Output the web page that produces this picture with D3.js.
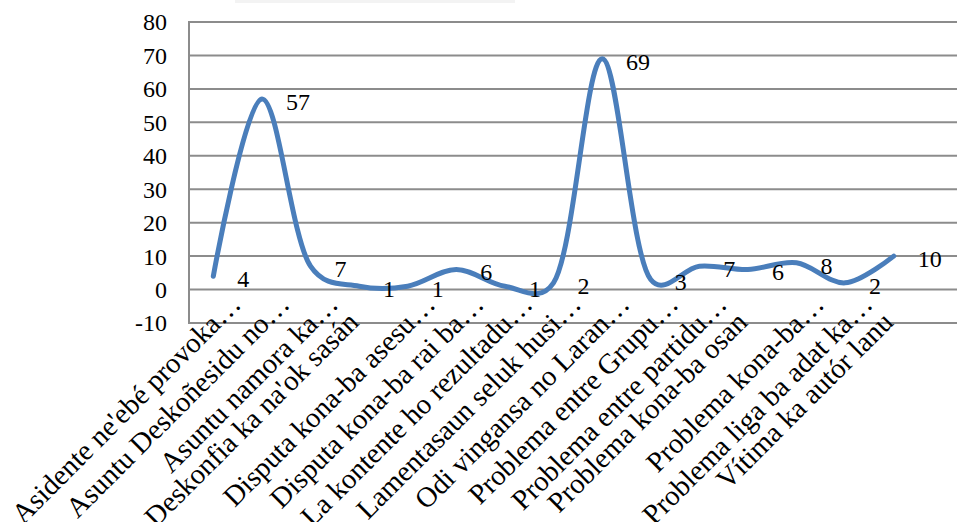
<!DOCTYPE html>
<html><head><meta charset="utf-8">
<script src="https://cdn.jsdelivr.net/npm/d3@7"></script>
<style>html,body{margin:0;padding:0;background:#fff;}svg{display:block;}</style>
</head><body>
<svg id="chart" width="957" height="522"></svg>
<script>
const categories = [
  "Asidente ne'ebé provoka…",
  "Asuntu Deskoñesidu no…",
  "Asuntu namora ka…",
  "Deskonfia ka na'ok sasán",
  "Disputa kona-ba asesu…",
  "Disputa kona-ba rai ba…",
  "La kontente ho rezultadu…",
  "Lamentasaun seluk husi…",
  "Odi vingansa no Laran…",
  "Problema entre Grupu…",
  "Problema entre partidu…",
  "Problema kona-ba osan",
  "Problema kona-ba…",
  "Problema liga ba adat ka…",
  "Vítima ka autór lanu"
];
const values = [4, 57, 7, 1, 1, 6, 1, 2, 69, 3, 7, 6, 8, 2, 10];
const yTicks = [-10, 0, 10, 20, 30, 40, 50, 60, 70, 80];

const svg = d3.select("#chart");
const W = 957;
const plot = {left: 189, right: 918, top: 22, bottom: 323};
const font = "'Liberation Serif', 'Times New Roman', serif";

const x = d3.scaleBand().domain(categories).range([plot.left, plot.right]);
const y = d3.scaleLinear().domain([-10, 80]).range([plot.bottom, plot.top]);
const cx = d => x(d) + x.bandwidth() / 2;

// faint shading at top
svg.append("rect").attr("x", 235).attr("y", 0).attr("width", 280).attr("height", 3)
  .attr("fill", "#f3f3f3");

// gridlines
svg.append("g").selectAll("line").data(yTicks).join("line")
  .attr("x1", plot.left).attr("x2", W)
  .attr("y1", d => y(d)).attr("y2", d => y(d))
  .attr("stroke", "#8c8c8c").attr("stroke-width", 2);

// y axis line
svg.append("line").attr("x1", plot.left).attr("x2", plot.left)
  .attr("y1", plot.top - 1).attr("y2", plot.bottom + 1)
  .attr("stroke", "#8c8c8c").attr("stroke-width", 2);

// y tick labels
svg.append("g").selectAll("text").data(yTicks).join("text")
  .attr("x", 167).attr("y", d => y(d))
  .attr("dy", "0.35em")
  .attr("text-anchor", "end")
  .attr("font-family", font).attr("font-size", 24)
  .attr("fill", "#000")
  .text(d => d);

// category labels
const cat = svg.append("g").selectAll("text").data(categories).join("text")
  .attr("text-anchor", "start")
  .attr("font-family", font).attr("font-size", 20)
  .attr("fill", "#000")
  .text(d => d);
const lastNode = cat.nodes()[categories.length - 1];
const catSize = 20 * 236 / lastNode.getComputedTextLength();
cat.attr("font-size", catSize);
cat.each(function(d) {
  const t = d3.select(this);
  const trunc = d.endsWith("…");
  const mainLen = trunc ? this.getSubStringLength(0, d.length - 1) : this.getComputedTextLength();
  const ax = trunc ? cx(d) + 9 : cx(d) + 1;
  const ay = trunc ? 326 : 324;
  t.attr("x", -mainLen).attr("y", 0)
   .attr("transform", `translate(${ax},${ay}) rotate(-45)`);
});

// line
const line = d3.line()
  .x((d, i) => cx(categories[i]))
  .y(d => y(d))
  .curve(d3.curveCatmullRom.alpha(0.25));
svg.append("path").datum(values)
  .attr("d", line)
  .attr("fill", "none")
  .attr("stroke", "#4a7ebb")
  .attr("stroke-width", 5)
  .attr("stroke-linecap", "round")
  .attr("stroke-linejoin", "round");

// data labels
svg.append("g").selectAll("text").data(values).join("text")
  .attr("x", (d, i) => cx(categories[i]) + 24)
  .attr("y", d => y(d) + 2.5)
  .attr("dy", "0.35em")
  .attr("font-family", font).attr("font-size", 24)
  .attr("fill", "#000")
  .text(d => d);
</script>
</body></html>
